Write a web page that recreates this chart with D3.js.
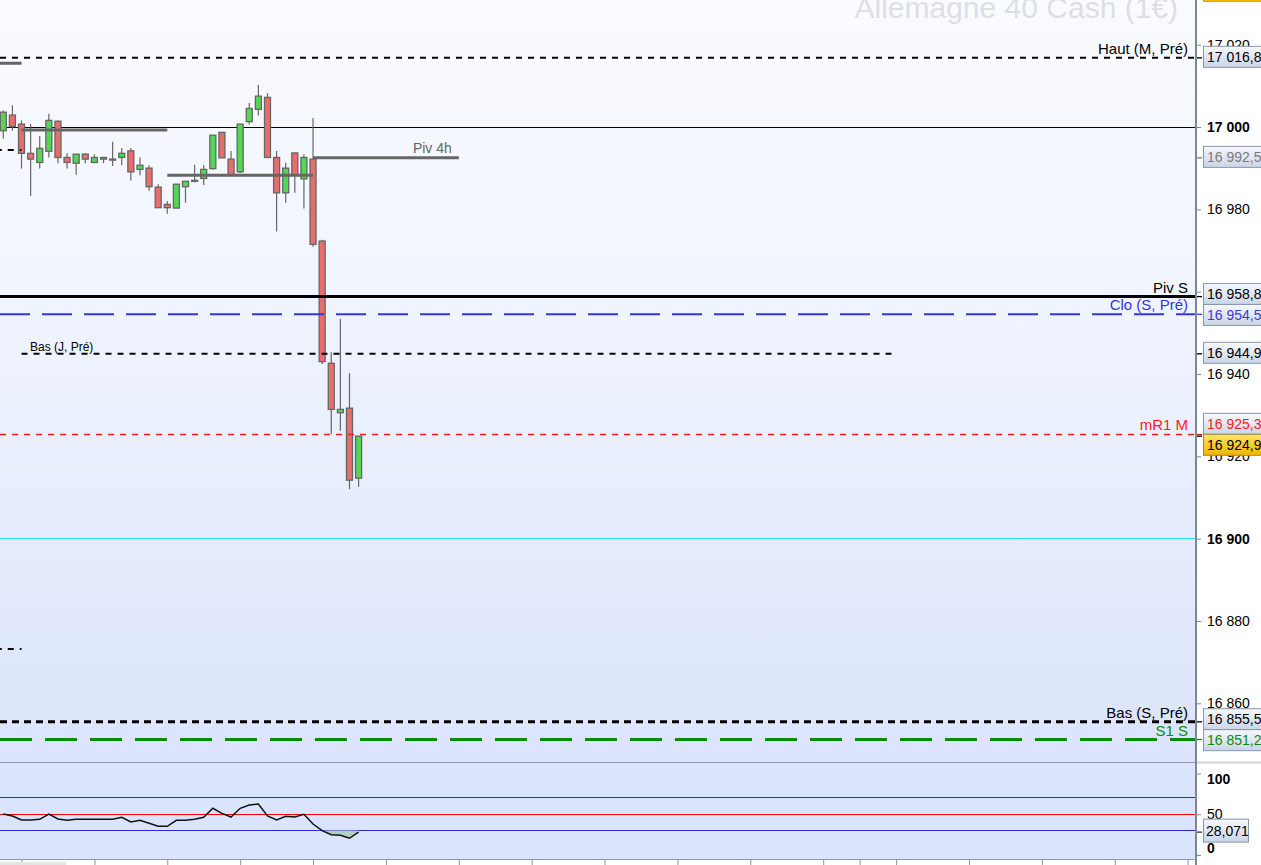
<!DOCTYPE html>
<html><head><meta charset="utf-8">
<script src="https://cdn.jsdelivr.net/npm/d3@7"></script>
<style>body{margin:0;background:#fff;overflow:hidden}svg{display:block;font-family:"Liberation Sans",Arial,sans-serif}</style>
</head><body><svg id="c" width="1261" height="865"></svg>
<script>
// ---------- DATA ----------
const candleOpen  = [16999.1,17002.9,17000.7,16993.6,16991.4,16994.1,17001.4,16992.6,16991.2,16993.4,16991.4,16992.2,16992.2,16992.6,16994.2,16989.7,16990.0,16985.4,16981.2,16980.3,16985.5,16987.05,16987.5,16989.9,16998.7,16992.2,16989.1,17001.3,17004.3,17007.2,16992.6,16984.0,16993.7,16987.4,16992.2,16972.3,16942.6,16930.6,16931.7,16914.7];
const candleHigh  = [17004.0,17005.3,17001.6,17000.7,16997.8,17003.2,17001.6,16993.6,16993.4,16993.6,16993.4,16992.6,16996.4,16994.9,16994.9,16992.6,16990.7,16986.1,16982.0,16986.1,16986.9,16990.8,16990.7,16998.0,16998.7,16994.2,17000.7,17005.8,17010.2,17008.2,16994.2,16991.3,16993.7,16993.4,17002.2,16972.6,16945.3,16953.4,16940.2,16924.9];
const candleLow   = [16997.2,16999.1,16989.9,16983.3,16989.9,16992.6,16991.2,16989.9,16988.4,16991.2,16991.2,16991.2,16990.5,16990.7,16987.0,16988.3,16984.5,16980.3,16978.9,16980.2,16981.6,16986.5,16985.9,16989.6,16992.5,16988.3,16988.8,17000.6,17002.8,16992.6,16974.6,16981.6,16984.0,16980.2,16970.9,16942.4,16925.4,16926.2,16912.0,16912.6];
const candleClose = [17003.6,17000.1,16993.6,16992.2,16994.8,17001.6,16992.6,16991.4,16993.4,16992.2,16992.6,16992.6,16992.2,16993.6,16989.1,16990.7,16985.5,16980.4,16980.4,16986.1,16986.8,16987.05,16989.7,16998.0,16992.5,16988.3,17000.7,17004.5,17007.5,16992.6,16984.0,16990.0,16988.3,16992.6,16971.5,16943.0,16931.4,16931.4,16914.2,16924.9];
const rsiValues   = [50.3,47.9,42.9,42.9,43.8,50.3,44.2,42.5,43.8,43.8,43.8,43.8,43.8,46.2,40.5,42.5,38.9,35.2,35.2,42.5,42.5,43.8,46.2,57.3,51.1,46.6,57.3,61.3,62.6,47.9,42.9,47.4,46.6,49.9,38.0,29.8,24.9,24.2,20.5,28.071];

const levelNames  = ["Haut (M, Pré)","Piv S","Clo (S, Pré)","Bas (J, Pré)","mR1 M","Bas (S, Pré)","S1 S"];
const levelValues = [17016.8,16958.8,16954.5,16944.9,16925.3,16855.5,16851.2];
const roundLevels = [17000,16900];
const pivot4hStart  = [-14,2,18,34];
const pivot4hEnd    = [2,18,34,50];
const pivot4hValues = [17015.5,16999.3,16988.3,16992.5];
const oldLevelValues = [16994.4,16873.2];
const boxValues = [17016.8,16992.5,16958.8,16954.5,16944.9,16925.3,16924.9,16855.5,16851.2];
const priceTicks = [16860,16880,16900,16920,16940,16960,16980,17000,17020];
const rsiTicks = [0,50,100];
const rsiBands = [70,50,30];
const timeTicks = [2,10,18,26,34,42,50,58,66,74,82,90,94,98,106,114,122,130];
const title = "Allemagne 40 Cash (1€)";

// ---------- STYLES ----------
const levelStyle = {
  "Haut (M, Pré)": {c:"#000", w:2, d:"6,6"},
  "Piv S":         {c:"#000", w:3, d:null},
  "Clo (S, Pré)":  {c:"#3434dc", w:2, d:"30,12"},
  "Bas (J, Pré)":  {c:"#000", w:2, d:"6,6", from:2, to:97.5, left:true},
  "mR1 M":         {c:"#ff1a1a", w:1.5, d:"6,6"},
  "Bas (S, Pré)":  {c:"#000", w:3, d:"7,5"},
  "S1 S":          {c:"#0a8a0a", w:3, d:"32,13"}
};
const boxStyle = {
  17016.8:{t:"#000"}, 16992.5:{t:"#7a7a7a"}, 16958.8:{t:"#000"}, 16954.5:{t:"#3a3ad8"},
  16944.9:{t:"#000"}, 16925.3:{t:"#ff1a1a"}, 16924.9:{t:"#000", yellow:true},
  16855.5:{t:"#000"}, 16851.2:{t:"#0a8a0a"}
};

const W=1261, PR=1196, MB=762, IT=763, IB=859;
const loc = d3.formatLocale({decimal:",", thousands:" ", grouping:[3], currency:["","€"]});
const f0 = loc.format(",.0f"), f1 = loc.format(",.1f"), f3 = loc.format(".3f");

const x = d3.scaleLinear().domain([0,130]).range([3.3, 3.3+9.11*130]);
const y = d3.scaleLinear().domain([16860,17000]).range([703.3,127]);
const yR = d3.scaleLinear().domain([0,100]).range([855,773.5]);

const svg = d3.select("#c");
const defs = svg.append("defs");
function grad(id, stops){
  const g = defs.append("linearGradient").attr("id",id).attr("x1",0).attr("y1",0).attr("x2",0).attr("y2",1);
  stops.forEach(s=>g.append("stop").attr("offset",s[0]).attr("stop-color",s[1]));
}
grad("bg",[[0,"#f9fbff"],[0.4,"#f0f4fe"],[1,"#dbe4fb"]]);
grad("box",[[0,"#f6f8fd"],[1,"#cbd5e7"]]);
grad("yel",[[0,"#ffe566"],[1,"#f0b400"]]);
defs.append("clipPath").attr("id","cm").append("rect").attr("x",0).attr("y",0).attr("width",PR).attr("height",MB);
defs.append("clipPath").attr("id","ci").append("rect").attr("x",0).attr("y",IT).attr("width",PR).attr("height",IB-IT);

svg.append("rect").attr("width",W).attr("height",865).attr("fill","#fff");
svg.append("rect").attr("width",PR).attr("height",MB).attr("fill","url(#bg)");
svg.append("rect").attr("x",0).attr("y",IT).attr("width",PR).attr("height",IB-IT).attr("fill","#dae4fc");

svg.append("text").attr("x",1178).attr("y",18).attr("text-anchor","end")
  .attr("font-size",30).attr("fill","#dcdfe8").text(title);

const g = svg.append("g").attr("clip-path","url(#cm)");

// round levels
g.selectAll(".rl").data(roundLevels).enter().append("line")
  .attr("x1",0).attr("x2",PR).attr("y1",d=>y(d)).attr("y2",d=>y(d))
  .attr("stroke",(d,i)=>i===0?"#000":"#1ee6f0").attr("stroke-width",1).attr("shape-rendering","crispEdges");

// candles
const idx = d3.range(candleOpen.length);
g.selectAll(".wick").data(idx).enter().append("line")
  .attr("x1",i=>x(i)).attr("x2",i=>x(i))
  .attr("y1",i=>y(candleHigh[i])).attr("y2",i=>y(candleLow[i]))
  .attr("stroke","#666").attr("stroke-width",1.2);
g.selectAll(".body").data(idx).enter().append("rect")
  .attr("x",i=>x(i)-3).attr("width",6)
  .attr("y",i=>y(Math.max(candleOpen[i],candleClose[i])))
  .attr("height",i=>Math.max(1,Math.abs(y(candleOpen[i])-y(candleClose[i]))))
  .attr("fill",i=>candleClose[i]>candleOpen[i]?"#55d655":(candleClose[i]<candleOpen[i]?"#ea6d6d":"#666"))
  .attr("stroke","#666").attr("stroke-width",1.3);

// old short dashed levels
g.selectAll(".ol").data(oldLevelValues).enter().append("line")
  .attr("x1",x(-14)).attr("x2",x(2)).attr("y1",d=>y(d)).attr("y2",d=>y(d))
  .attr("stroke","#000").attr("stroke-width",2).attr("stroke-dasharray","6,6");

// pivot 4h segments
g.selectAll(".p4").data(pivot4hValues).enter().append("line")
  .attr("x1",(d,i)=>x(pivot4hStart[i])).attr("x2",(d,i)=>x(pivot4hEnd[i]))
  .attr("y1",d=>y(d)).attr("y2",d=>y(d))
  .attr("stroke","#666").attr("stroke-width",3);
g.append("text").attr("x",x(pivot4hEnd[3])-7).attr("y",y(pivot4hValues[3])-5)
  .attr("text-anchor","end").attr("font-size",14).attr("fill","#666").text("Piv 4h");

// levels
levelNames.forEach((n,i)=>{
  const s = levelStyle[n], v = levelValues[i], yy = y(v);
  const x1 = s.from!==undefined ? x(s.from) : 0, x2 = s.to!==undefined ? x(s.to) : PR;
  const ln = g.append("line").attr("x1",x1).attr("x2",x2).attr("y1",yy).attr("y2",yy)
    .attr("stroke",s.c).attr("stroke-width",s.w);
  if (s.d) ln.attr("stroke-dasharray",s.d);
  if (s.left) {
    g.append("text").attr("x",30).attr("y",yy-3).attr("font-size",12).attr("fill",s.c).text(n);
  } else {
    g.append("text").attr("x",1188).attr("y",yy-4).attr("text-anchor","end")
      .attr("font-size",15).attr("fill",s.c).text(n);
  }
});

// price axis
const ax = svg.append("g").attr("transform",`translate(${PR},0)`)
  .call(d3.axisRight(y).tickValues(priceTicks).tickSize(5).tickPadding(6).tickFormat(f0));
ax.select(".domain").remove();
ax.selectAll("line").attr("stroke","#7b8896");
ax.selectAll("text").attr("font-size",14).attr("fill","#000")
  .attr("font-family","'Liberation Sans',Arial,sans-serif")
  .attr("font-weight",d=>d%100===0?"bold":"normal");

// label boxes with collision avoidance
const BH = 21;
let boxes = boxValues.map(v=>({v, c:y(v)-1}));
boxes.sort((a,b)=>a.c-b.c);
for (let it=0; it<50; it++){
  for (let k=0;k<boxes.length-1;k++){
    const a=boxes[k], b=boxes[k+1], gap=b.c-a.c;
    if (gap<BH){ const dd=(BH-gap)/2; a.c-=dd; b.c+=dd; }
  }
}
const bx = svg.append("g");
// partially visible box at top
bx.append("rect").attr("x",1203.5).attr("y",-19.5).attr("width",64).attr("height",BH).attr("fill","url(#yel)").attr("stroke","#c8b000");
boxes.forEach(b=>{
  const s = boxStyle[b.v];
  bx.append("line").attr("x1",PR).attr("x2",PR+6).attr("y1",y(b.v)).attr("y2",y(b.v)).attr("stroke",s.t).attr("stroke-width",1.3);
  bx.append("rect").attr("x",1203.5).attr("y",b.c-BH/2).attr("width",64).attr("height",BH)
    .attr("fill",s.yellow?"url(#yel)":"url(#box)").attr("stroke",s.yellow?"#a08a40":"#8797ab");
  bx.append("text").attr("x",1207).attr("y",b.c+5).attr("font-size",14).attr("fill",s.t).text(f1(b.v));
});

// indicator panel
const gi = svg.append("g").attr("clip-path","url(#ci)");
gi.selectAll(".band").data(rsiBands).enter().append("line")
  .attr("x1",0).attr("x2",PR).attr("y1",d=>yR(d)).attr("y2",d=>yR(d))
  .attr("stroke",d=>d===50?"#ff0000":"#2b2bd0").attr("stroke-width",1).attr("shape-rendering","crispEdges");
gi.append("path").datum(idx)
  .attr("d",d3.area().x(i=>x(i)).y0(yR(30)).y1(i=>yR(Math.min(30,rsiValues[i]))))
  .attr("fill","#b3cfc0");
gi.append("path").datum(idx)
  .attr("d",d3.line().x(i=>x(i)).y(i=>yR(rsiValues[i])))
  .attr("fill","none").attr("stroke","#111").attr("stroke-width",1.5);

// indicator axis
const ax2 = svg.append("g").attr("transform",`translate(${PR},0)`)
  .call(d3.axisRight(yR).tickValues(rsiTicks).tickSize(5).tickPadding(6).tickFormat(d3.format("d")));
ax2.select(".domain").remove();
ax2.selectAll("line").attr("stroke","#7b8896");
ax2.selectAll("text").attr("font-size",14).attr("fill","#000")
  .attr("font-family","'Liberation Sans',Arial,sans-serif")
  .attr("font-weight",d=>d===50?"normal":"bold")
  .attr("dy",d=>d===100?"0.72em":(d===0?"-0.15em":"0.32em"));
const lastR = rsiValues[rsiValues.length-1];
svg.append("line").attr("x1",PR).attr("x2",PR+6).attr("y1",yR(lastR)).attr("y2",yR(lastR)).attr("stroke","#000");
svg.append("rect").attr("x",1203.5).attr("y",yR(lastR)-13).attr("width",45).attr("height",23)
  .attr("fill","url(#box)").attr("stroke","#8797ab");
svg.append("text").attr("x",1206).attr("y",yR(lastR)+4).attr("font-size",14).attr("fill","#000").text(f3(lastR).replace(".",","));

// separators and frame
svg.append("line").attr("x1",0).attr("x2",PR).attr("y1",MB+0.5).attr("y2",MB+0.5).attr("stroke","#8d9bab");
svg.append("line").attr("x1",PR).attr("x2",W).attr("y1",MB+0.5).attr("y2",MB+0.5).attr("stroke","#cfd4da").attr("stroke-width",2);
svg.append("line").attr("x1",0).attr("x2",PR).attr("y1",IB+0.5).attr("y2",IB+0.5).attr("stroke","#8d9bab");
svg.append("line").attr("x1",PR).attr("x2",PR).attr("y1",0).attr("y2",865).attr("stroke","#7b8896").attr("stroke-width",2);

// time axis ticks
const ax3 = svg.append("g").attr("transform",`translate(0,${IB})`)
  .call(d3.axisBottom(x).tickValues(timeTicks).tickSize(6).tickFormat(""));
ax3.select(".domain").remove();
ax3.selectAll("line").attr("stroke","#8797ab");
svg.append("rect").attr("x",0).attr("y",862).attr("width",66).attr("height",3).attr("fill","#e4e4e4");
</script></body></html>
